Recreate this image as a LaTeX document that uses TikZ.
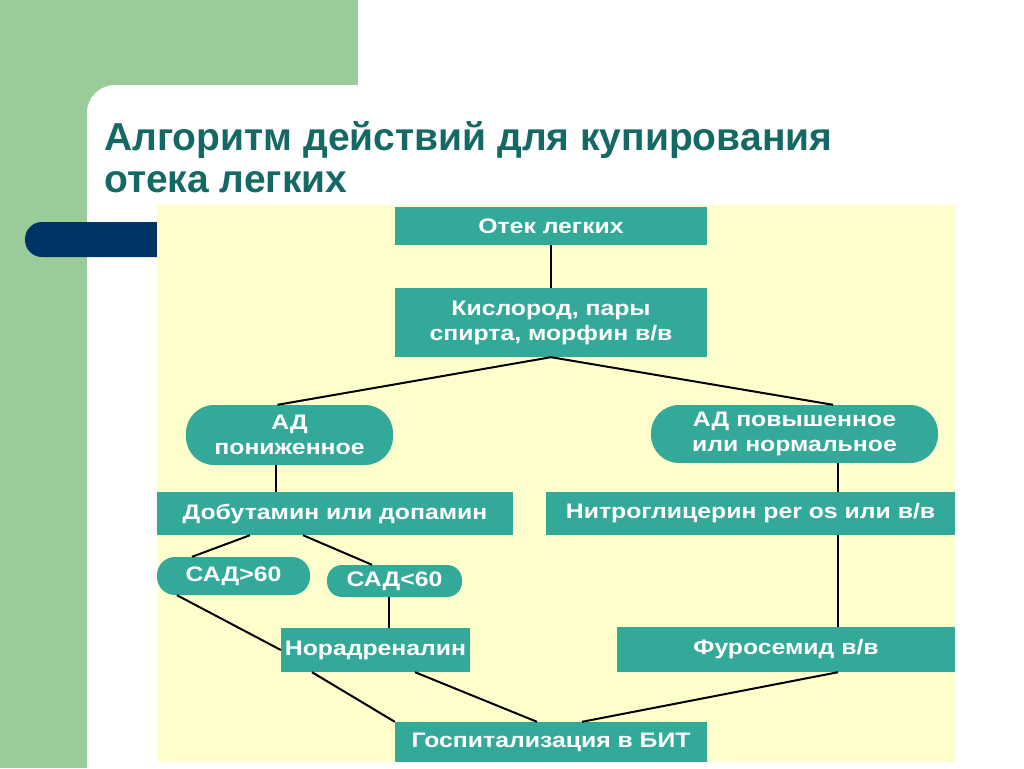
\documentclass[tikz,border=0pt]{standalone}
\usepackage{fontspec}
\usepackage{xcolor}
\definecolor{Green}{RGB}{153,204,153}
\definecolor{Navy}{RGB}{0,51,102}
\definecolor{Cream}{RGB}{255,255,204}
\definecolor{Teal}{RGB}{51,170,153}
\definecolor{TitleTeal}{RGB}{20,105,100}
\definecolor{Black}{RGB}{0,0,0}
\definecolor{White}{RGB}{255,255,255}
\newfontfamily\titlefont{Liberation Sans}
\newfontfamily\blockfont{Liberation Sans}[FakeStretch=1.18]
\usepackage{tikz}

\tikzset{
	block/.style={fill=Teal, text=White, inner sep=0pt, align=center, font=\blockfont\bfseries\fontsize{21}{25}\selectfont},
	pill/.style={block, rounded corners=#1},
	link/.style={-, draw=Black, line width=2pt},
}

\begin{document}
\begin{tikzpicture}[x=1pt, y=-1pt]
		
		\useasboundingbox (0,0) rectangle (1024,768);
		
		% Background
		\fill[White] (0,0) rectangle (1024,768);
		\fill[Green] (0,0) rectangle (358,120);
		\fill[Green] (0,0) rectangle (87,768);
		\fill[White, rounded corners=28pt] (87,85) rectangle (1100,850);
		\fill[Navy, rounded corners=17pt] (25,222) rectangle (200,257);
		\fill[Cream] (157,205) rectangle (955,762);
		
		% Title
		\node[anchor=base west, inner sep=0pt, text=TitleTeal, font=\titlefont\bfseries\fontsize{39}{42}\selectfont] (title1) at (104,150) {Алгоритм действий для купирования};
		\node[anchor=base west, inner sep=0pt, text=TitleTeal, font=\titlefont\bfseries\fontsize{39}{42}\selectfont] (title2) at (104,192) {отека легких};
		
		% Blocks
		\node[block, minimum width=312pt, minimum height=38pt] (otek) at (551,226) {Отек легких};
		\node[block, minimum width=312pt, minimum height=69pt] (kisl) at (551,322.5) {Кислород, пары\\спирта, морфин в/в};
		
		\node[pill=28pt, minimum width=207pt, minimum height=60pt] (adlow) at (289.5,435) {АД\\пониженное};
		\node[pill=28pt, minimum width=287pt, minimum height=58pt] (adhigh) at (794.5,434) {АД повышенное\\или нормальное};
		
		\node[block, minimum width=356pt, minimum height=43pt] (dobut) at (335,513.5) {Добутамин или допамин};
		\node[block, minimum width=409pt, minimum height=43pt] (nitro) at (750.5,513.5) {Нитроглицерин per os или в/в};
		
		\node[pill=18pt, minimum width=153pt, minimum height=38pt] (sadhi) at (233.5,576) {САД>60};
		\node[pill=15pt, minimum width=135pt, minimum height=32pt] (sadlo) at (394.5,581) {САД<60};
		
		\node[block, minimum width=189pt, minimum height=44pt] (norad) at (375.5,650) {Норадреналин};
		\node[block, minimum width=338pt, minimum height=45pt] (furos) at (786,649.5) {Фуросемид в/в};
		
		\node[block, minimum width=312pt, minimum height=40pt] (hosp) at (551,742) {Госпитализация в БИТ};
		
		% Links
		\draw[link] (otek) -- (kisl);
		\draw[link] (kisl.south) -- ([xshift=-12pt]adlow.north);
		\draw[link] (kisl.south) -- ([xshift=38.5pt]adhigh.north);
		
		\draw[link] ([xshift=-14pt]adlow.south) -- ([xshift=-14pt]adlow.south |- dobut.north);
		\draw[link] ([xshift=43.5pt]adhigh.south) -- ([xshift=43.5pt]adhigh.south |- nitro.north);
		
		\draw[link] ([xshift=-85pt]dobut.south) -- ([xshift=-41.5pt]sadhi.north);
		\draw[link] ([xshift=-32pt]dobut.south) -- ([xshift=-22.5pt]sadlo.north);
		\draw[link] ([xshift=-5.5pt]sadlo.south) -- ([xshift=-5.5pt]sadlo.south |- norad.north);
		\draw[link] ([xshift=-56.5pt]sadhi.south) -- (norad.west);
		\draw[link] ([xshift=87.5pt]nitro.south) -- ([xshift=87.5pt]nitro.south |- furos.north);
		
		\draw[link] ([xshift=-63.5pt]norad.south) -- (hosp.north west);
		\draw[link] ([xshift=39.5pt]norad.south) -- ([xshift=-14pt]hosp.north);
		\draw[link] ([xshift=52pt]furos.south) -- ([xshift=31pt]hosp.north);
		
	\end{tikzpicture}
\end{document}
